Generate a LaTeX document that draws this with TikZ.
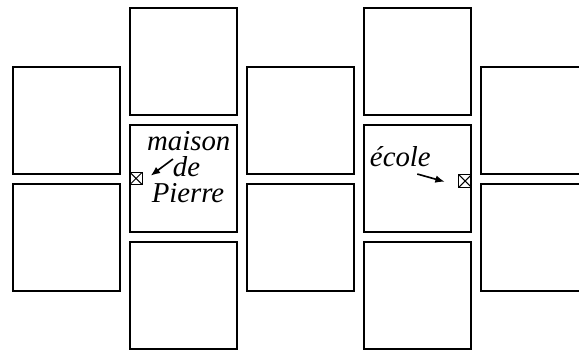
\documentclass[tikz,border=0pt]{standalone}
\usepackage{fontspec}
\setmainfont{Liberation Serif}
\usetikzlibrary{arrows.meta}
\begin{document}
\begin{tikzpicture}[font=\fontsize{14}{16}\selectfont\itshape,
  blk/.style={draw, line width=0.9pt, minimum size=1.82cm, inner sep=0},
  mk/.style={draw, line width=0.5pt, minimum size=0.21cm, inner sep=0,
    path picture={\draw[line width=0.5pt] (path picture bounding box.north west) -- (path picture bounding box.south east)
      (path picture bounding box.south west) -- (path picture bounding box.north east);}},
  lbl/.style={inner sep=0, anchor=base},
  pt/.style={-{Latex[length=1.6mm,width=1.3mm]}, line width=0.8pt}]
  \clip (0,0) rectangle (9.897,-5.966);
  \node[blk] (a1) at (1.137,-2.060) {};
  \node[blk] (a2) at (1.137,-4.060) {};
  \node[blk] (b1) at (3.137,-1.051) {};
  \node[blk] (b2) at (3.137,-3.051) {};
  \node[blk] (b3) at (3.137,-5.051) {};
  \node[blk] (c1) at (5.137,-2.060) {};
  \node[blk] (c2) at (5.137,-4.060) {};
  \node[blk] (d1) at (7.137,-1.051) {};
  \node[blk] (d2) at (7.137,-3.051) {};
  \node[blk] (d3) at (7.137,-5.051) {};
  \node[blk] (e1) at (9.137,-2.060) {};
  \node[blk] (e2) at (9.137,-4.060) {};
  \node[mk] (home) at (2.325,-3.051) {};
  \node[mk] (school) at (7.949,-3.094) {};
  \node[lbl] (maison) at (3.226,-2.576) {maison};
  \node[lbl] (de) at (3.188,-3.014) {de};
  \node[lbl] (pierre) at (3.214,-3.470) {Pierre};
  \node[lbl] (ecole) at (6.843,-2.850) {école};
  \draw[pt] ([xshift=0.007cm,yshift=-0.053cm]de.north west) -- ([xshift=0.137cm,yshift=0.048cm]home.east);
  \draw[pt] ([xshift=-0.236cm,yshift=-0.113cm]ecole.south east) -- ([xshift=-0.234cm,yshift=-0.012cm]school.west);
\end{tikzpicture}
\end{document}
